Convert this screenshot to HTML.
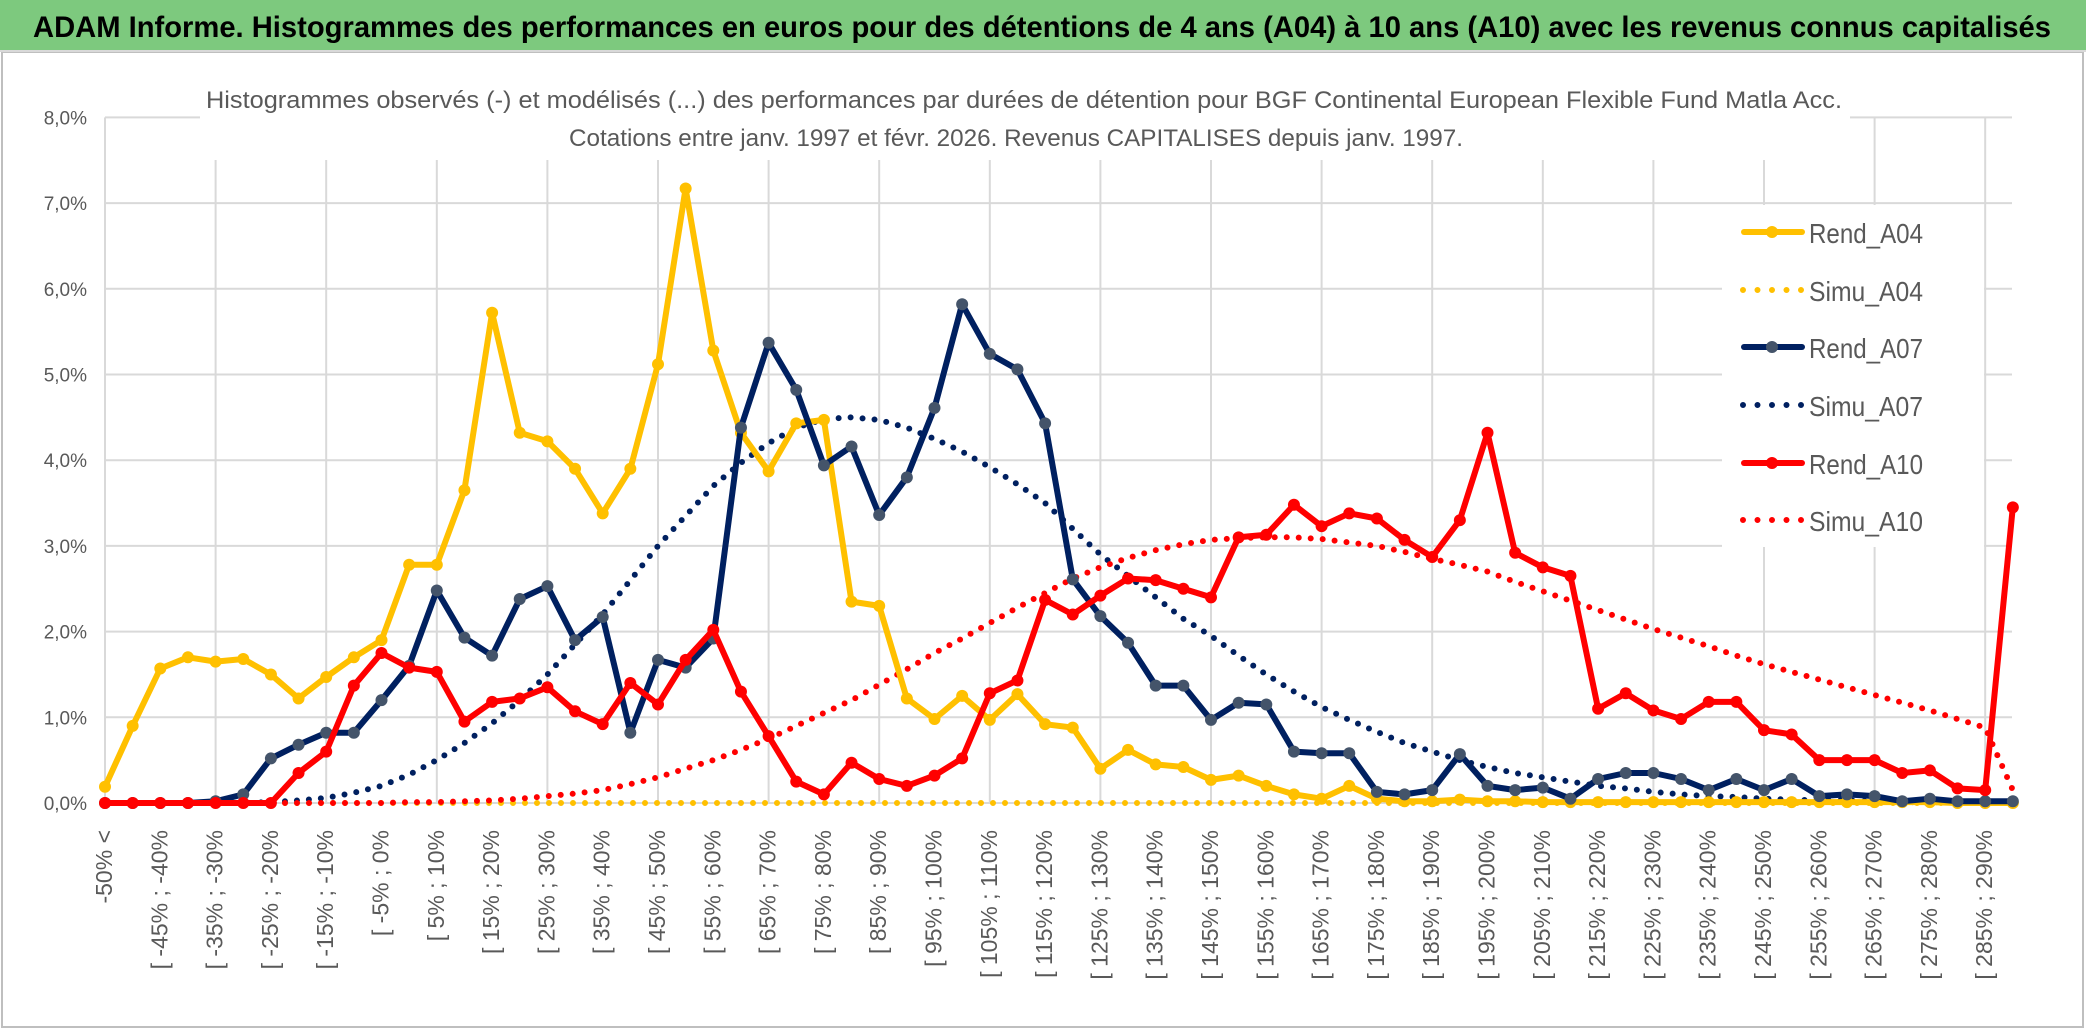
<!DOCTYPE html>
<html><head><meta charset="utf-8"><style>
html,body{margin:0;padding:0;background:#fff;}
svg{display:block;font-family:"Liberation Sans",sans-serif;}
</style></head><body>
<svg id="chart" width="2086" height="1031" viewBox="0 0 2086 1031" xmlns="http://www.w3.org/2000/svg">
<rect x="0" y="0" width="2086" height="1031" fill="#fff"/>
<rect x="2" y="52" width="2081" height="975" fill="none" stroke="#bfbfbf" stroke-width="2"/>
<rect x="0" y="0" width="2086" height="50" fill="#7dc97e"/>
<line x1="0" y1="51" x2="2086" y2="51" stroke="#d9d9d9" stroke-width="2"/>
<text x="33" y="37" font-size="30" font-weight="bold" fill="#000" textLength="2018" lengthAdjust="spacingAndGlyphs">ADAM Informe. Histogrammes des performances en euros pour des détentions de 4 ans (A04) à 10 ans (A10) avec les revenus connus capitalisés</text>
<g id="grid"></g>
<g id="subtitle">
<rect x="200" y="75" width="1650" height="85" fill="#fff"/>
<text x="206" y="108" font-size="24" fill="#595959" textLength="1636" lengthAdjust="spacingAndGlyphs">Histogrammes observés (-) et modélisés (...) des performances par durées de détention pour BGF Continental European Flexible Fund Matla Acc.</text>
<text x="569" y="146" font-size="24" fill="#595959" textLength="894" lengthAdjust="spacingAndGlyphs">Cotations entre janv. 1997 et févr. 2026. Revenus CAPITALISES depuis janv. 1997.</text>
</g>
<g id="yaxis"></g>
<g id="xaxis"></g>
<g id="series"></g>
<g id="legend"></g>
</svg>
<script>
const rendA04 = [0.19,0.9,1.57,1.7,1.65,1.68,1.5,1.22,1.47,1.7,1.9,2.78,2.78,3.65,5.72,4.32,4.22,3.9,3.38,3.9,5.12,7.17,5.28,4.32,3.87,4.43,4.47,2.35,2.3,1.22,0.98,1.25,0.97,1.27,0.92,0.88,0.4,0.62,0.45,0.42,0.27,0.32,0.2,0.1,0.05,0.2,0.05,0.02,0.02,0.04,0.02,0.02,0.01,0.01,0.01,0.01,0.01,0.01,0.01,0.01,0.01,0.01,0.01,0.01,0.01,0.01,0.01,0,0,0];
const simuA04 = [0,0,0,0,0,0,0,0,0,0,0,0,0,0,0,0,0,0,0,0,0,0,0,0,0,0,0,0,0,0,0,0,0,0,0,0,0,0,0,0,0,0,0,0,0,0,0,0,0,0,0,0,0,0,0,0,0,0,0,0,0,0,0,0,0,0,0,0,0,0];
const rendA07 = [0,0,0,0,0.02,0.1,0.52,0.68,0.82,0.82,1.2,1.6,2.48,1.93,1.72,2.38,2.53,1.9,2.17,0.82,1.67,1.58,1.92,4.38,5.37,4.82,3.94,4.16,3.36,3.8,4.61,5.82,5.24,5.06,4.43,2.61,2.18,1.87,1.37,1.37,0.97,1.17,1.15,0.6,0.58,0.58,0.13,0.1,0.15,0.57,0.2,0.15,0.18,0.05,0.28,0.35,0.35,0.28,0.15,0.28,0.15,0.28,0.08,0.1,0.08,0.02,0.05,0.02,0.02,0.02];
const simuA07 = [0,0,0,0,0,0,0.01,0.03,0.06,0.12,0.2,0.33,0.5,0.7,0.93,1.2,1.5,1.85,2.2,2.6,3.0,3.35,3.7,3.97,4.2,4.38,4.48,4.5,4.47,4.38,4.25,4.1,3.92,3.72,3.5,3.2,2.9,2.65,2.4,2.15,1.95,1.72,1.5,1.3,1.12,0.97,0.83,0.7,0.6,0.5,0.42,0.35,0.3,0.25,0.2,0.17,0.13,0.1,0.08,0.07,0.05,0.04,0.03,0.03,0.02,0.01,0.01,0.01,0,0];
const rendA10 = [0,0,0,0,0,0,0,0.35,0.6,1.37,1.75,1.58,1.53,0.95,1.18,1.22,1.35,1.07,0.92,1.4,1.15,1.67,2.02,1.3,0.78,0.25,0.1,0.47,0.28,0.2,0.32,0.52,1.28,1.43,2.37,2.2,2.42,2.62,2.6,2.5,2.4,3.1,3.13,3.48,3.23,3.38,3.32,3.07,2.87,3.3,4.32,2.92,2.75,2.65,1.1,1.28,1.08,0.98,1.18,1.18,0.85,0.8,0.5,0.5,0.5,0.35,0.38,0.17,0.15,3.45];
const simuA10 = [0,0,0,0,0,0,0,0,0,0,0,0.01,0.01,0.02,0.03,0.05,0.08,0.11,0.15,0.22,0.3,0.4,0.5,0.62,0.75,0.9,1.05,1.2,1.38,1.56,1.75,1.92,2.1,2.28,2.45,2.62,2.75,2.86,2.95,3.02,3.07,3.09,3.1,3.1,3.08,3.04,3.0,2.93,2.85,2.78,2.7,2.58,2.47,2.36,2.25,2.14,2.03,1.93,1.83,1.72,1.62,1.53,1.44,1.35,1.26,1.17,1.08,0.98,0.88,0.15];
const yTicks = [0,1,2,3,4,5,6,7,8];
const yTickLabels = ["0,0%","1,0%","2,0%","3,0%","4,0%","5,0%","6,0%","7,0%","8,0%"];
const categories = (function(){const c=["-50% <"];for(let k=0;k<68;k++){const a=-50+5*k;c.push("[ "+a+"% ; "+(a+5)+"%");}c.push("> 290%");return c;})();

const NS="http://www.w3.org/2000/svg";
const X0=105, STEP=27.65, Y0=803, PXPCT=85.7, XR=2012;
function xs(i){return X0+i*STEP;}
function ys(v){return Y0-v*PXPCT;}
function mk(tag,attrs,parent){const e=document.createElementNS(NS,tag);for(const k in attrs)e.setAttribute(k,attrs[k]);parent.appendChild(e);return e;}

const grid=document.getElementById('grid');
yTicks.forEach(function(t){
  const l=mk('line',{x1:X0,x2:XR,y1:ys(t),y2:ys(t),stroke:'#d9d9d9','stroke-width':2},grid);
  
  
});
for(let i=0;i<categories.length;i+=4){
  const l=mk('line',{x1:xs(i),x2:xs(i),y1:ys(8),y2:Y0,stroke:'#d9d9d9','stroke-width':2},grid);
  
  
}
const ya=document.getElementById('yaxis');
yTicks.forEach(function(t,k){
  const tx=mk('text',{x:87,y:ys(t)+7,'text-anchor':'end','font-size':19,fill:'#595959'},ya);
  tx.textContent=yTickLabels[k];
  
  
});
const xa=document.getElementById('xaxis');
for(let i=0;i<categories.length-1;i+=2){
  const x=xs(i)+7, y=830;
  const tx=mk('text',{x:x,y:y,'text-anchor':'end','font-size':23,fill:'#595959',transform:'rotate(-90 '+x+' '+y+')'},xa);
  tx.textContent=categories[i];
  
  
}

const ser=document.getElementById('series');
function pts(arr){return arr.map(function(v,i){return xs(i).toFixed(1)+','+ys(v).toFixed(1);}).join(' ');}
function dotted(arr,color,name){
  const p=mk('polyline',{points:pts(arr),fill:'none',stroke:color,'stroke-width':6,'stroke-linecap':'round','stroke-linejoin':'round','stroke-dasharray':'0 12'},ser);
  
  
}
function solid(arr,color,mcolor,name){
  const g=mk('g',{},ser);
  
  
  mk('polyline',{points:pts(arr),fill:'none',stroke:color,'stroke-width':6,'stroke-linejoin':'round'},g);
  arr.forEach(function(v,i){
    const c=mk('circle',{cx:xs(i),cy:ys(v),r:6,fill:mcolor},g);
    
    
  });
}
dotted(simuA04,'#ffc000','simu-a04-line');
dotted(simuA07,'#002060','simu-a07-line');
dotted(simuA10,'#ff0000','simu-a10-line');
solid(rendA04,'#ffc000','#ffc000','rend-a04-line');
solid(rendA07,'#002060','#44546a','rend-a07-line');
solid(rendA10,'#ff0000','#ff0000','rend-a10-line');

const lg=document.getElementById('legend');
mk('rect',{x:1722,y:205,width:262,height:342,fill:'#fff'},lg);
const legendNames=["Rend_A04","Simu_A04","Rend_A07","Simu_A07","Rend_A10","Simu_A10"];
const legendColors=["#ffc000","#ffc000","#002060","#002060","#ff0000","#ff0000"];
const legendY=[232,290,347,405,463,520];
legendNames.forEach(function(n,k){
  const g=mk('g',{},lg);
  
  
  const y=legendY[k];
  if(k%2===0){
    mk('line',{x1:1744,x2:1802,y1:y,y2:y,stroke:legendColors[k],'stroke-width':6,'stroke-linecap':'round'},g);
    mk('circle',{cx:1772,cy:y,r:6,fill:k===2?'#44546a':legendColors[k]},g);
  } else {
    mk('line',{x1:1743,x2:1803,y1:y,y2:y,stroke:legendColors[k],'stroke-width':6,'stroke-linecap':'round','stroke-dasharray':'0 14.5'},g);
  }
  const t=mk('text',{x:1809,y:y+11,'font-size':28,fill:'#595959',textLength:114,lengthAdjust:'spacingAndGlyphs'},g);
  t.textContent=n;
});
</script>
</body></html>
